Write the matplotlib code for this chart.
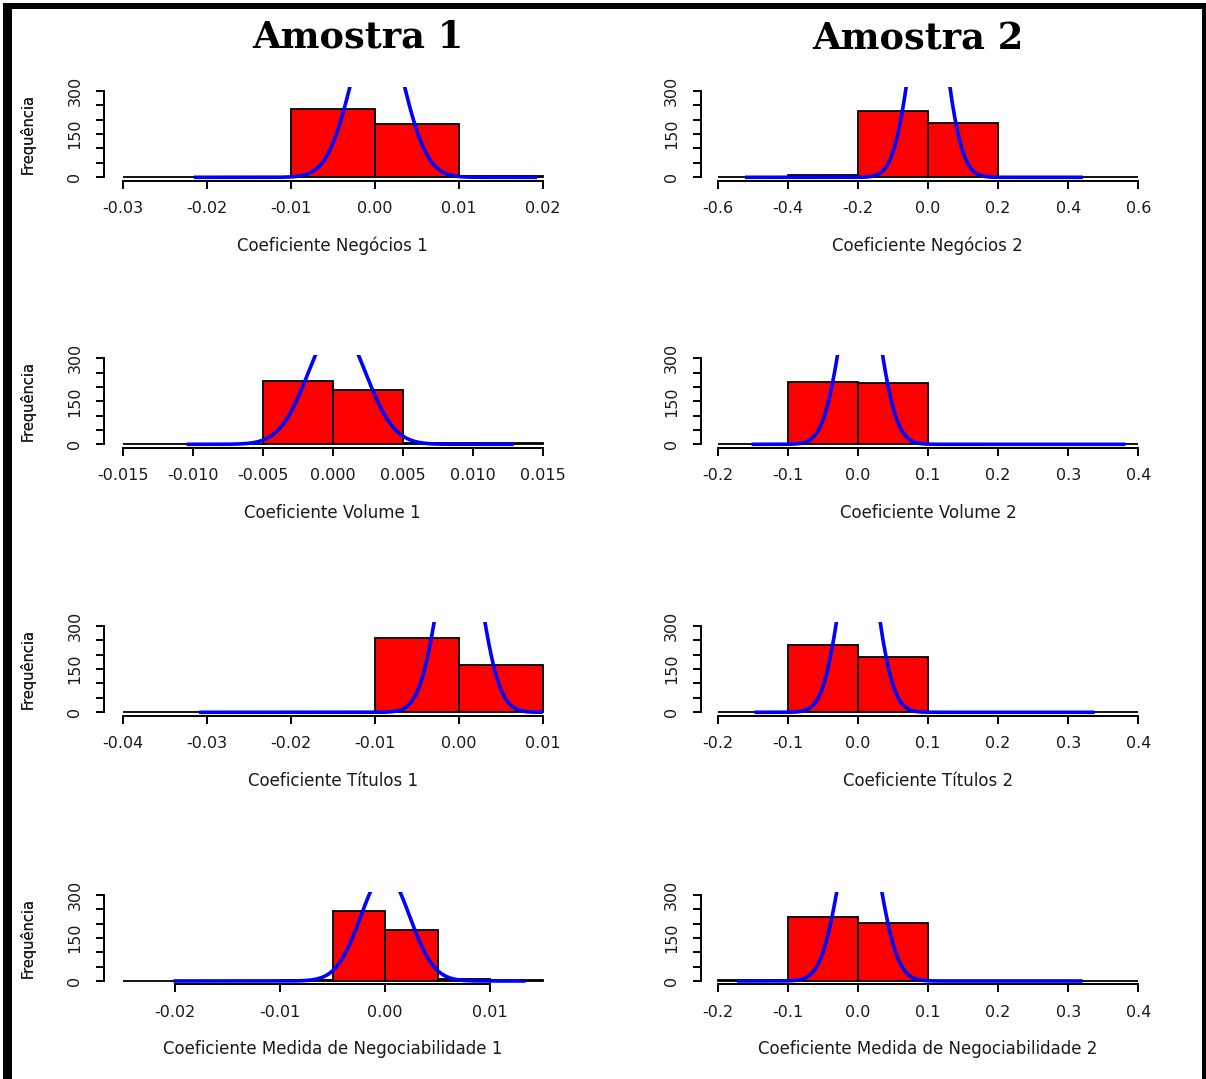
import numpy as np
import matplotlib.pyplot as plt
from matplotlib.patches import Rectangle

# histogram counts (R style hist, right closed bins)
neg1_breaks = [-0.03, -0.02, -0.01, 0.00, 0.01, 0.02]
neg1_counts = [1, 1, 237, 183, 3]
neg2_breaks = [-0.6, -0.4, -0.2, 0.0, 0.2, 0.4, 0.6]
neg2_counts = [1, 8, 231, 188, 1, 1]

vol1_breaks = [-0.015, -0.010, -0.005, 0.000, 0.005, 0.010, 0.015]
vol1_counts = [1, 2, 221, 190, 5, 4]
vol2_breaks = [-0.2, -0.1, 0.0, 0.1, 0.2, 0.3, 0.4]
vol2_counts = [1, 217, 215, 0, 0, 1]

tit1_breaks = [-0.04, -0.03, -0.02, -0.01, 0.00, 0.01]
tit1_counts = [1, 0, 0, 256, 164]
tit2_breaks = [-0.2, -0.1, 0.0, 0.1, 0.2, 0.3, 0.4]
tit2_counts = [1, 233, 190, 0, 0, 1]

med1_breaks = [-0.025, -0.020, -0.015, -0.010, -0.005, 0.000, 0.005, 0.010, 0.015]
med1_counts = [1, 0, 0, 3, 244, 177, 7, 2]
med2_breaks = [-0.2, -0.1, 0.0, 0.1, 0.2, 0.3, 0.4]
med2_counts = [2, 224, 201, 0, 0, 1]

# fitted normal curve: mean, sd, from, to
neg1_fit = [0.0003, 0.00297, -0.0213, 0.0191]
neg2_fit = [0.0, 0.049, -0.517, 0.437]
vol1_fit = [0.0003, 0.00204, -0.0103, 0.0128]
vol2_fit = [0.003, 0.026, -0.149, 0.379]
tit1_fit = [0.0001, 0.00235, -0.0307, 0.0098]
tit2_fit = [0.0005, 0.025, -0.145, 0.335]
med1_fit = [0.0, 0.00231, -0.0200, 0.0132]
med2_fit = [0.002, 0.027, -0.170, 0.318]

# x tick positions and labels
neg1_ticks = [-0.03, -0.02, -0.01, 0.00, 0.01, 0.02]
neg1_labels = ["-0.03", "-0.02", "-0.01", "0.00", "0.01", "0.02"]
neg2_ticks = [-0.6, -0.4, -0.2, 0.0, 0.2, 0.4, 0.6]
neg2_labels = ["-0.6", "-0.4", "-0.2", "0.0", "0.2", "0.4", "0.6"]
vol1_ticks = [-0.015, -0.010, -0.005, 0.000, 0.005, 0.010, 0.015]
vol1_labels = ["-0.015", "-0.010", "-0.005", "0.000", "0.005", "0.010", "0.015"]
tit1_ticks = [-0.04, -0.03, -0.02, -0.01, 0.00, 0.01]
tit1_labels = ["-0.04", "-0.03", "-0.02", "-0.01", "0.00", "0.01"]
med1_ticks = [-0.02, -0.01, 0.00, 0.01]
med1_labels = ["-0.02", "-0.01", "0.00", "0.01"]
r2_ticks = [-0.2, -0.1, 0.0, 0.1, 0.2, 0.3, 0.4]
r2_labels = ["-0.2", "-0.1", "0.0", "0.1", "0.2", "0.3", "0.4"]

y_ticks = [0, 50, 100, 150, 200, 250, 300]
y_labels = ["0", "", "", "150", "", "", "300"]

titles = ["Amostra 1", "Amostra 2"]
xlabels = [["Coeficiente Negócios 1", "Coeficiente Negócios 2"],
           ["Coeficiente Volume 1", "Coeficiente Volume 2"],
           ["Coeficiente Títulos 1", "Coeficiente Títulos 2"],
           ["Coeficiente Medida de Negociabilidade 1", "Coeficiente Medida de Negociabilidade 2"]]

panels = [
    [(neg1_breaks, neg1_counts, neg1_fit, neg1_ticks, neg1_labels),
     (neg2_breaks, neg2_counts, neg2_fit, neg2_ticks, neg2_labels)],
    [(vol1_breaks, vol1_counts, vol1_fit, vol1_ticks, vol1_labels),
     (vol2_breaks, vol2_counts, vol2_fit, r2_ticks, r2_labels)],
    [(tit1_breaks, tit1_counts, tit1_fit, tit1_ticks, tit1_labels),
     (tit2_breaks, tit2_counts, tit2_fit, r2_ticks, r2_labels)],
    [(med1_breaks, med1_counts, med1_fit, med1_ticks, med1_labels),
     (med2_breaks, med2_counts, med2_fit, r2_ticks, r2_labels)],
]

W, H = 1206, 1079
fig = plt.figure(figsize=(W / 100, H / 100), dpi=100)

# layout in pixels
col_box = [(104.0, 561.4), (700.7, 1155.0)]      # plot region left/right
col_ends = [(122.7, 542.7), (717.7, 1138.3)]     # where first/last break sit
row_y = [(90.7, 177.3), (358.3, 444.3), (625.7, 712.3), (895.0, 981.0)]  # y of 300 and 0

for r in range(4):
    for c in range(2):
        breaks, counts, fit, ticks, labels = panels[r][c]
        lpx, rpx = col_box[c]
        e0, e1 = col_ends[c]
        y300, y0 = row_y[r]
        ppu = (y0 - y300) / 300
        top_px = y300 - 12 * ppu
        bot_px = y0 + 12 * ppu
        ax = fig.add_axes([lpx / W, 1 - bot_px / H, (rpx - lpx) / W, (bot_px - top_px) / H])

        a, b = breaks[0], breaks[-1]
        dpp = (b - a) / (e1 - e0)
        ax.set_xlim(a - (e0 - lpx) * dpp, b + (rpx - e1) * dpp)
        ax.set_ylim(-12, 312)

        widths = np.diff(breaks)
        ax.bar(breaks[:-1], counts, width=widths, align="edge", color="#FF0000",
               edgecolor="black", linewidth=1.3)

        # normal density scaled to counts
        m, s, x_from, x_to = fit
        n = sum(counts)
        bw = widths[0]
        xs = np.linspace(x_from, x_to, 400)
        ys = n * bw * np.exp(-(xs - m) ** 2 / (2 * s ** 2)) / (s * np.sqrt(2 * np.pi))
        ax.plot(xs, ys, color="#0000FF", linewidth=2.6)

        for side in ["top", "right"]:
            ax.spines[side].set_visible(False)
        ax.spines["left"].set_bounds(0, 300)
        ax.spines["bottom"].set_bounds(ticks[0], ticks[-1])
        ax.spines["left"].set_linewidth(1.4)
        ax.spines["bottom"].set_linewidth(1.4)

        ax.set_xticks(ticks)
        ax.set_xticklabels(labels, fontsize=11.5, color="#1a1a1a")
        ax.set_yticks(y_ticks)
        ax.set_yticklabels(y_labels, fontsize=11.5, rotation=90, va="center", color="#1a1a1a")
        ax.tick_params(axis="both", length=6, width=1.4)
        ax.tick_params(axis="x", pad=8.5)
        ax.tick_params(axis="y", pad=9.5)

        fig.text(27.3 / W, 1 - (y300 + y0) / 2 / H, "Frequência", rotation=90,
                 ha="center", va="center", fontsize=10.5, color="#1a1a1a")
        fig.text((lpx + rpx) / 2 / W, 1 - (y0 + 68.5) / H, xlabels[r][c],
                 ha="center", va="center", fontsize=12, color="#1a1a1a")

fig.text(358 / W, 1 - 37.5 / H, titles[0], ha="center", va="center",
         fontsize=26.5, fontweight="bold", family="DejaVu Serif")
fig.text(918 / W, 1 - 39.7 / H, titles[1], ha="center", va="center",
         fontsize=26.5, fontweight="bold", family="DejaVu Serif")

# black frame round the picture
fig.add_artist(Rectangle((3 / W, 0), 9 / W, 1 - 3 / H, transform=fig.transFigure,
                         color="black", lw=0))
fig.add_artist(Rectangle((3 / W, 1 - 9 / H), 1 - 3 / W, 6 / H, transform=fig.transFigure,
                         color="black", lw=0))
fig.add_artist(Rectangle((1202 / W, 0), 4 / W, 1 - 3 / H, transform=fig.transFigure,
                         color="black", lw=0))

fig.savefig("out.png", dpi=100)
